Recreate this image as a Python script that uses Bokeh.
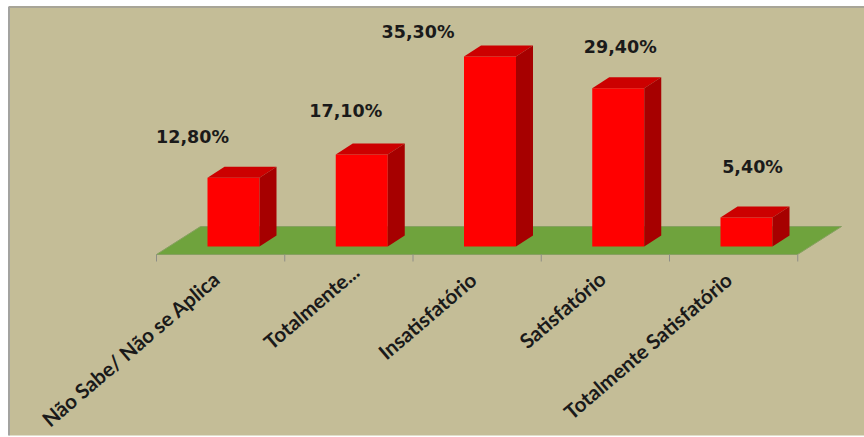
from bokeh.embed import file_html
from bokeh.models import ColumnDataSource, Range1d
from bokeh.plotting import figure
from bokeh.resources import INLINE
from bokeh.core.properties import value

categories = ["Não Sabe/ Não se Aplica", "Totalmente...", "Insatisfatório",
              "Satisfatório", "Totalmente Satisfatório"]
shares = [12.8, 17.1, 35.3, 29.4, 5.4]
share_labels = ["12,80%", "17,10%", "35,30%", "29,40%", "5,40%"]

# Hand-placed data labels and axis labels, as pixel offsets from each bar
label_dx = [-41, -16, -72, 2, 6]
label_dy = [41, 44, 25, 41, 50]
axis_label_end_dx = [-17, -6, -17, -16, -18]
axis_label_end_py = [275, 268, 276, 275, 276]

W, H = 864, 437
SLOT_PX = 128.25       # horizontal pixels per category
UNIT_PX = 5.38         # vertical pixels per percentage point
ORIGIN_X, ORIGIN_Y = 233, 246   # first bar's centre, bar base line

def dx(px):
    return px / SLOT_PX

def dy(px):
    return px / UNIT_PX

def xd(px):
    return (px - ORIGIN_X) / SLOT_PX

def yd(py):
    return (ORIGIN_Y - py) / UNIT_PX

p = figure(width=W, height=H, output_backend="svg", toolbar_location=None,
           x_range=Range1d(xd(0), xd(W)), y_range=Range1d(yd(H), yd(0)),
           min_border=0, outline_line_color=None, border_fill_color="white",
           background_fill_color="white")
p.axis.visible = False
p.grid.visible = False

# Chart area, with a grey edge along the top and the left only
p.quad(left=[xd(9)], right=[xd(W)], top=[yd(7)], bottom=[yd(435)],
       fill_color="#C4BD97", line_color=None)
p.line([xd(8.5), xd(W)], [yd(6.5), yd(6.5)], line_color="#A8A597", line_width=2)
p.line([xd(8.5), xd(8.5)], [yd(6), yd(435)], line_color="#A3A3A0", line_width=2)

# Green floor and the category axis in front of it
FLOOR_FRONT, FLOOR_BACK = 254, 226
FLOOR_L, FLOOR_R, FLOOR_SHIFT = 156, 797, 44
p.patch([xd(FLOOR_L), xd(FLOOR_R), xd(FLOOR_R + FLOOR_SHIFT), xd(FLOOR_L + FLOOR_SHIFT)],
        [yd(FLOOR_FRONT), yd(FLOOR_FRONT), yd(FLOOR_BACK), yd(FLOOR_BACK)],
        fill_color="#6FA33D", line_color="#86A060", line_width=1)
ticks = [xd(FLOOR_L) + i for i in range(len(categories) + 1)]
p.segment(x0=ticks, x1=ticks, y0=[yd(FLOOR_FRONT)] * len(ticks), y1=[yd(261)] * len(ticks),
          line_color="#8E8E86", line_width=1)

# 3D bars: front face, top face, side face
BAR_W = dx(52)
DEPTH_X, DEPTH_Y = dx(17), dy(11)
xs = list(range(len(categories)))
left = [x - BAR_W / 2 for x in xs]
right = [x + BAR_W / 2 for x in xs]
p.quad(left=left, right=right, bottom=[0] * len(xs), top=shares,
       fill_color="#FF0000", line_color=None)
p.patches(xs=[[l, r, r + DEPTH_X, l + DEPTH_X] for l, r in zip(left, right)],
          ys=[[v, v, v + DEPTH_Y, v + DEPTH_Y] for v in shares],
          fill_color="#CC0000", line_color=None)
p.patches(xs=[[r, r + DEPTH_X, r + DEPTH_X, r] for r in right],
          ys=[[0, DEPTH_Y, v + DEPTH_Y, v] for v in shares],
          fill_color="#A60000", line_color=None)

# Value labels
values_src = ColumnDataSource(dict(
    x=[x + dx(o) for x, o in zip(xs, label_dx)],
    y=[v + dy(o) for v, o in zip(shares, label_dy)],
    text=share_labels))
p.text(x="x", y="y", text="text", source=values_src, text_align="center",
       text_baseline="middle", text_font=value("DejaVu Sans"), text_font_style="bold",
       text_font_size="17.5px", text_color="#1A1A1A")

# Slanted category labels, anchored at their upper right end
axis_src = ColumnDataSource(dict(
    x=[x + dx(o) for x, o in zip(xs, axis_label_end_dx)],
    y=[yd(o) for o in axis_label_end_py],
    text=categories))
p.text(x="x", y="y", text="text", source=axis_src, angle=40.5, angle_units="deg",
       text_align="right", text_baseline="middle", text_font=value("Lato"),
       text_font_style="bold", text_font_size="20.5px", text_color="#1A1A1A")

open("out.html", "w").write(file_html(p, INLINE))
